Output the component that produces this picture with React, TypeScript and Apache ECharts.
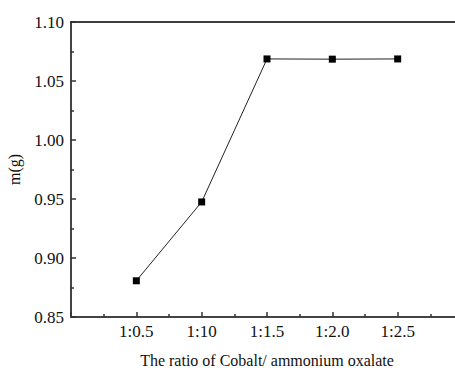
import React, { useEffect, useRef } from "react";
import * as echarts from "echarts";

const categories = ["1:0.5", "1:10", "1:1.5", "1:2.0", "1:2.5"];
const massValues = [0.8807, 0.9475, 1.0687, 1.0685, 1.0687];
const yTicks = [0.85, 0.9, 0.95, 1.0, 1.05, 1.1];

const FONT = "Liberation Serif";

export default function App() {
  const ref = useRef<HTMLDivElement>(null);
  useEffect(() => {
    if (!ref.current) return;
    document.body.style.margin = "0";
    const chart = echarts.init(ref.current, undefined, { renderer: "svg" });
    const data = massValues.map((v, i) => [i + 1, v]);
    const tick = { show: true, inside: true, length: 5, lineStyle: { color: "#333", width: 1.5 } };
    const minor = { show: true, splitNumber: 2, length: 3, lineStyle: { color: "#333", width: 1.5 } };
    chart.setOption({
      animation: false,
      backgroundColor: "#fff",
      textStyle: { fontFamily: FONT },
      grid: { left: 71, top: 22, right: 17, bottom: 51, outerBoundsMode: "none", containLabel: false },
      xAxis: [
        {
          type: "value",
          min: 0,
          max: 6,
          interval: 1,
          name: "The ratio of Cobalt/ ammonium oxalate",
          nameLocation: "middle",
          nameGap: 35,
          nameTextStyle: { fontFamily: FONT, fontSize: 16, color: "#111" },
          axisLine: { show: true, onZero: false, lineStyle: { color: "#444", width: 2 } },
          axisTick: tick,
          minorTick: minor,
          splitLine: { show: false },
          axisLabel: {
            show: true,
            fontFamily: FONT,
            fontSize: 17,
            color: "#111",
            margin: 6,
            formatter: (v: number) => (v >= 1 && v <= categories.length ? categories[v - 1] : ""),
          },
        },
        {
          type: "value",
          position: "top",
          min: 0,
          max: 6,
          axisLine: { show: true, onZero: false, lineStyle: { color: "#000", width: 1.5 } },
          axisTick: { show: false },
          axisLabel: { show: false },
          splitLine: { show: false },
        },
      ],
      yAxis: [
        {
          type: "value",
          min: 0.85,
          max: 1.1,
          interval: 0.05,
          name: "m(g)",
          nameLocation: "middle",
          nameGap: 49,
          nameRotate: 90,
          nameTextStyle: { fontFamily: FONT, fontSize: 16, color: "#111" },
          axisLine: { show: true, onZero: false, lineStyle: { color: "#444", width: 2 } },
          axisTick: tick,
          minorTick: minor,
          splitLine: { show: false },
          axisLabel: {
            show: true,
            fontFamily: FONT,
            fontSize: 17,
            color: "#111",
            margin: 7,
            formatter: (v: number) => {
              const t = yTicks.find((y) => Math.abs(y - v) < 1e-6);
              return t !== undefined ? t.toFixed(2) : "";
            },
          },
        },
      ],
      series: [
        {
          type: "line",
          data,
          symbol: "rect",
          symbolSize: 7,
          itemStyle: { color: "#000" },
          lineStyle: { color: "#222", width: 1 },
        },
      ],
    });
    return () => chart.dispose();
  }, []);
  return <div ref={ref} style={{ position: "absolute", left: 0, top: 0, width: 480, height: 368 }} />;
}
